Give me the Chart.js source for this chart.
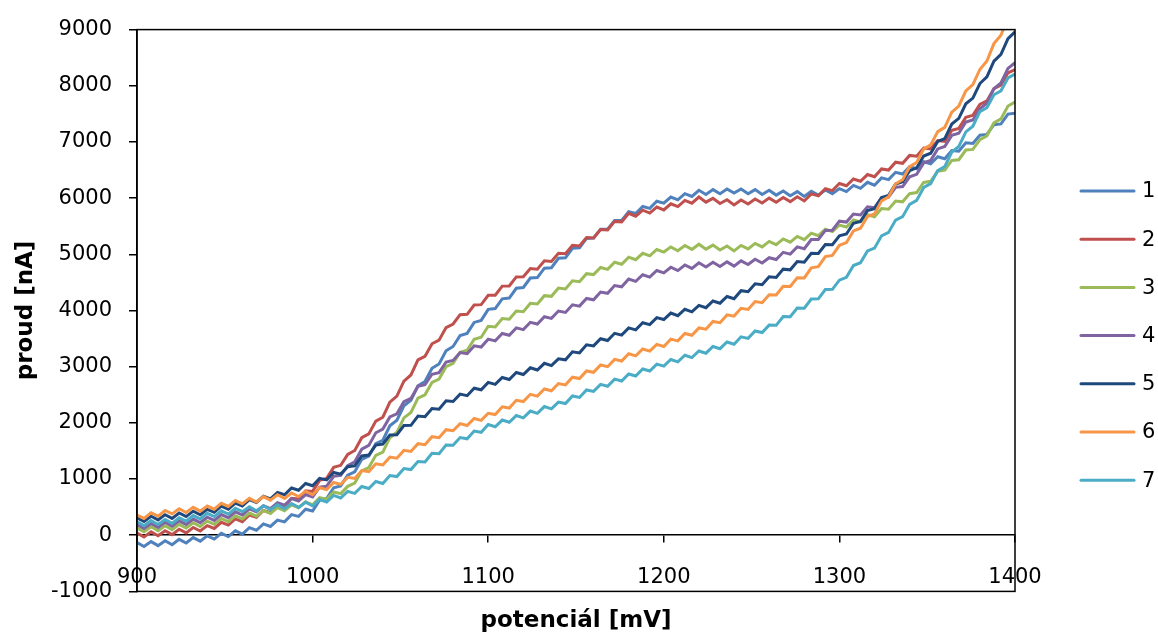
<!DOCTYPE html>
<html>
<head>
<meta charset="utf-8">
<script src="https://cdn.jsdelivr.net/npm/chart.js@4/dist/chart.umd.min.js"></script>
<style>
  html, body { margin: 0; padding: 0; background: #fff; }
</style>
</head>
<body>
<canvas id="cv" width="1158" height="642"></canvas>
<script>
// potential (mV) sample points
var potencial = [900,904,908,912,916,920,924,928,932,936,940,944,948,952,956,960,964,968,972,976,980,984,988,992,996,
  1000,1004,1008,1012,1016,1020,1024,1028,1032,1036,1040,1044,1048,1052,1056,1060,1064,1068,1072,1076,1080,1084,1088,1092,1096,
  1100,1104,1108,1112,1116,1120,1124,1128,1132,1136,1140,1144,1148,1152,1156,1160,1164,1168,1172,1176,1180,1184,1188,1192,1196,
  1200,1204,1208,1212,1216,1220,1224,1228,1232,1236,1240,1244,1248,1252,1256,1260,1264,1268,1272,1276,1280,1284,1288,1292,1296,
  1300,1304,1308,1312,1316,1320,1324,1328,1332,1336,1340,1344,1348,1352,1356,1360,1364,1368,1372,1376,1380,1384,1388,1392,1396,1400];

// current (nA)
var s1 = [-130,-202,-114,-186,-98,-170,-74,-138,-42,-106,-10,-68,34,-24,78,20,134,88,202,156,270,238,366,334,462,
  430,622,654,846,878,1070,1130,1350,1410,1630,1690,1948,2046,2304,2402,2660,2736,2972,3048,3284,3360,3556,3592,3788,3824,
  4020,4034,4208,4222,4396,4410,4578,4586,4754,4762,4930,4938,5106,5114,5282,5290,5448,5446,5604,5602,5760,5726,5852,5818,5944,
  5910,6020,5970,6080,6030,6140,6066,6152,6078,6164,6090,6164,6078,6152,6066,6140,6054,6128,6042,6116,6030,6122,6054,6146,6078,
  6170,6118,6226,6174,6282,6230,6360,6330,6460,6430,6560,6524,6648,6612,6736,6700,6848,6836,6984,6972,7120,7134,7308,7322,7496,7510];
var s2 = [40,-30,60,-10,80,10,106,42,138,74,170,120,230,180,290,240,360,320,440,400,520,508,656,644,792,
  780,976,1012,1208,1244,1440,1508,1736,1804,2032,2100,2368,2476,2744,2852,3120,3184,3408,3472,3696,3760,3926,3932,4098,4104,
  4270,4272,4434,4436,4598,4600,4748,4736,4884,4872,5020,5010,5160,5150,5300,5290,5442,5434,5586,5578,5730,5678,5786,5734,5842,
  5790,5900,5850,5960,5910,6020,5928,5996,5904,5972,5880,5968,5896,5984,5912,6000,5926,6012,5938,6024,5950,6076,6042,6168,6134,
  6260,6220,6340,6300,6420,6380,6520,6500,6640,6620,6760,6746,6892,6878,7024,7010,7206,7242,7438,7474,7670,7730,7950,8010,8230,8290];
var s3 = [130,60,150,80,170,100,194,128,222,156,250,194,298,242,346,290,394,338,442,386,490,436,542,488,594,
  540,670,640,770,740,870,928,1146,1204,1422,1480,1736,1832,2088,2184,2440,2500,2720,2780,3000,3060,3256,3292,3488,3524,
  3720,3708,3856,3844,3992,3980,4128,4116,4264,4252,4400,4384,4528,4512,4656,4640,4766,4732,4858,4824,4950,4904,5018,4972,5086,
  5040,5132,5064,5156,5088,5180,5092,5164,5076,5148,5060,5158,5096,5194,5132,5230,5172,5274,5216,5318,5260,5376,5332,5448,5404,
  5520,5486,5612,5578,5704,5670,5816,5802,5948,5934,6080,6100,6280,6300,6480,6500,6672,6684,6856,6868,7040,7110,7340,7410,7640,7710];
var s4 = [190,120,210,140,230,160,256,192,288,224,320,264,368,312,416,360,468,416,524,472,580,536,652,608,724,
  680,856,872,1048,1064,1240,1306,1532,1598,1824,1890,2106,2162,2378,2434,2650,2678,2866,2894,3082,3110,3250,3230,3370,3350,
  3490,3460,3590,3560,3690,3660,3790,3760,3890,3860,3990,3966,4102,4078,4214,4190,4328,4306,4444,4422,4560,4518,4636,4594,4712,
  4670,4770,4710,4810,4750,4850,4774,4858,4782,4866,4790,4884,4818,4912,4846,4940,4908,5036,5004,5132,5100,5262,5264,5426,5428,
  5590,5574,5718,5702,5846,5830,6004,6018,6192,6206,6380,6424,6628,6672,6876,6920,7118,7156,7354,7392,7590,7690,7950,8050,8310,8410];
var s5 = [310,244,338,272,366,300,396,332,428,364,460,408,516,464,572,520,632,584,696,648,760,720,840,800,920,
  880,1012,984,1116,1088,1220,1236,1412,1428,1604,1620,1784,1788,1952,1956,2120,2108,2256,2244,2392,2380,2512,2484,2616,2588,
  2720,2684,2808,2772,2896,2860,2980,2940,3060,3020,3140,3122,3264,3246,3388,3370,3498,3466,3594,3562,3690,3656,3782,3748,3874,
  3840,3954,3908,4022,3976,4090,4050,4170,4130,4250,4210,4352,4334,4476,4458,4600,4588,4736,4724,4872,4860,5018,5016,5174,5172,
  5330,5362,5554,5586,5778,5810,6010,6050,6250,6290,6490,6540,6750,6800,7010,7060,7320,7420,7680,7780,8040,8160,8440,8560,8840,8960];
var s6 = [360,300,400,340,440,380,472,404,496,428,520,464,568,512,616,560,656,592,688,624,720,656,752,688,784,
  720,846,812,938,904,1030,1010,1150,1130,1270,1250,1390,1370,1510,1490,1630,1612,1754,1736,1878,1860,1986,1952,2078,2044,
  2170,2148,2286,2264,2402,2380,2508,2476,2604,2572,2700,2676,2812,2788,2924,2900,3030,3000,3130,3100,3230,3192,3314,3276,3398,
  3360,3490,3460,3590,3560,3690,3668,3806,3784,3922,3900,4040,4020,4160,4140,4280,4276,4432,4428,4584,4580,4760,4780,4960,4980,
  5160,5208,5416,5464,5672,5720,5952,6024,6256,6328,6560,6636,6872,6948,7184,7260,7530,7640,7910,8020,8290,8440,8750,8900,9210,9360];
var s7 = [240,170,260,190,280,210,310,250,350,290,390,332,434,376,478,420,508,436,524,452,540,472,564,496,588,
  520,636,592,708,664,780,744,868,832,956,920,1062,1044,1186,1168,1310,1304,1458,1452,1606,1600,1738,1716,1854,1832,
  1970,1930,2050,2010,2130,2090,2210,2170,2290,2250,2370,2344,2478,2452,2586,2560,2686,2652,2778,2744,2870,2834,2958,2922,3046,
  3010,3128,3086,3204,3162,3280,3240,3360,3320,3440,3400,3532,3504,3636,3608,3740,3736,3892,3888,4044,4040,4204,4208,4372,4376,
  4540,4590,4800,4850,5060,5110,5330,5390,5610,5670,5890,5960,6190,6260,6490,6560,6820,6920,7180,7280,7540,7610,7840,7910,8140,8210];

var seriesNames = ['1', '2', '3', '4', '5', '6', '7'];
var seriesValues = [s1, s2, s3, s4, s5, s6, s7];
var colors = ['#4F81BD', '#C0504D', '#9BBB59', '#8064A2', '#1F497D', '#F79646', '#4BACC6'];
var xTicks = [900, 1000, 1100, 1200, 1300, 1400];
var yTicks = [-1000, 0, 1000, 2000, 3000, 4000, 5000, 6000, 7000, 8000, 9000];

var datasets = seriesValues.map(function (vals, k) {
    return {
        label: seriesNames[k],
        data: potencial.map(function (x, i) { return {x: x, y: vals[i]}; }),
        borderColor: colors[k],
        backgroundColor: colors[k],
        borderWidth: 3,
        pointRadius: 0,
        tension: 0,
        order: 7 - k
    };
});

// plot box + legend on the right
var framePlugin = {
    id: 'frame',
    afterDraw: function (chart) {
        var ctx = chart.ctx, a = chart.chartArea;
        ctx.save();
        ctx.strokeStyle = '#000';
        ctx.lineWidth = 1.5;
        ctx.strokeRect(a.left, a.top, a.right - a.left, a.bottom - a.top);
        ctx.font = '21px "DejaVu Sans"';
        ctx.textBaseline = 'middle';
        ctx.textAlign = 'left';
        chart.data.datasets.forEach(function (ds, i) {
            var y = 191 + i * 48.2;
            ctx.strokeStyle = ds.borderColor;
            ctx.lineWidth = 3;
            ctx.lineCap = 'round';
            ctx.beginPath();
            ctx.moveTo(1081, y);
            ctx.lineTo(1134, y);
            ctx.stroke();
            ctx.fillStyle = '#000';
            ctx.fillText(ds.label, 1142, y + 1);
        });
        ctx.restore();
    }
};

function plainNumber(v) { return String(v); }

new Chart(document.getElementById('cv'), {
    type: 'line',
    data: { datasets: datasets },
    plugins: [framePlugin],
    options: {
        responsive: false,
        animation: false,
        devicePixelRatio: 1,
        layout: { padding: { left: 10, right: 143, top: 24, bottom: 5 } },
        plugins: { legend: { display: false }, tooltip: { enabled: false } },
        scales: {
            x: {
                type: 'linear',
                position: { y: 0 },
                min: 900, max: 1400,
                afterBuildTicks: function (s) { s.ticks = xTicks.map(function (v) { return {value: v}; }); },
                grid: { drawOnChartArea: false, drawTicks: true, tickLength: 7, color: '#000', lineWidth: 1.5 },
                border: { display: true, color: '#000', width: 1.5 },
                ticks: { color: '#000', padding: 23, maxRotation: 0, autoSkip: false, callback: plainNumber,
                         font: { family: 'DejaVu Sans', size: 21 } }
            },
            x2: {
                type: 'linear',
                position: 'bottom',
                min: 900, max: 1400,
                grid: { display: false },
                border: { display: false },
                ticks: { display: false },
                title: { display: true, text: 'potenciál [mV]', color: '#000',
                         padding: { top: 8, bottom: 2 },
                         font: { family: 'DejaVu Sans', size: 23, weight: 'bold' } }
            },
            y: {
                type: 'linear',
                min: -1000, max: 9000,
                afterBuildTicks: function (s) { s.ticks = yTicks.map(function (v) { return {value: v}; }); },
                afterFit: function (s) { s.width = 127; },
                grid: { drawOnChartArea: false, drawTicks: true, tickLength: 8, color: '#000', lineWidth: 1.5 },
                border: { display: true, color: '#000', width: 1.5 },
                ticks: { color: '#000', padding: 17, autoSkip: false, callback: plainNumber,
                         font: { family: 'DejaVu Sans', size: 21 } },
                title: { display: true, text: 'proud [nA]', color: '#000',
                         padding: { top: 2, bottom: 0 },
                         font: { family: 'DejaVu Sans', size: 23, weight: 'bold' } }
            }
        }
    }
});
</script>
</body>
</html>
